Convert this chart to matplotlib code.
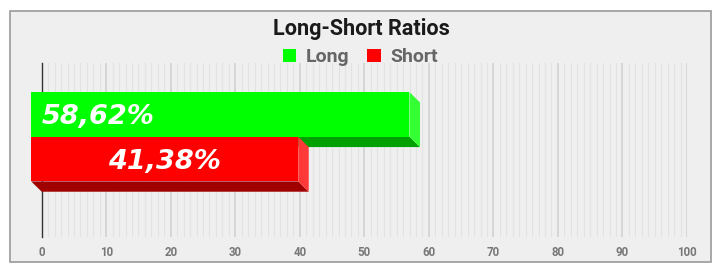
import matplotlib.pyplot as plt
from matplotlib.patches import Polygon, Rectangle, Patch
from matplotlib.ticker import MultipleLocator

# data
series = ["Long", "Short"]
values = [58.62, 41.38]
labels = ["58,62%", "41,38%"]
x_ticks = [0, 10, 20, 30, 40, 50, 60, 70, 80, 90, 100]

# colours: front, side, bottom
front_colors = ["#00ff00", "#ff0000"]
side_colors = ["#33ff33", "#ff3838"]
bottom_colors = ["#00a000", "#a00000"]
label_align = ["left", "center"]

W, H = 727, 280
fig = plt.figure(figsize=(W / 100, H / 100), dpi=100)
fig.patch.set_facecolor("white")

# outer frame
fig.patches.append(Rectangle((9.5 / W, 1 - 262 / H), (711 - 9.5) / W, (262 - 10.5) / H,
                             transform=fig.transFigure, facecolor="#efefef",
                             edgecolor="#9a9a9a", linewidth=1.2, zorder=-5))

ax_l, ax_r, ax_t, ax_b = 41.7, 687, 63, 236.7
ax = fig.add_axes([ax_l / W, 1 - ax_b / H, (ax_r - ax_l) / W, (ax_b - ax_t) / H])
ax.set_zorder(2)
ax.set_facecolor("none")
ax.set_xlim(0, 100)
ax.set_ylim(-0.5, 0.5)

# grid
ax.xaxis.set_major_locator(MultipleLocator(10))
ax.xaxis.set_minor_locator(MultipleLocator(1))
ax.grid(which="minor", axis="x", color="#e2e2e2", linewidth=0.8)
ax.grid(which="major", axis="x", color="#cfcfcf", linewidth=1.1)
ax.set_axisbelow(True)
for s in ["top", "right", "bottom"]:
    ax.spines[s].set_visible(False)
ax.spines["left"].set_color("#333333")
ax.spines["left"].set_linewidth(1.0)
ax.set_yticks([])
ax.set_xticks(x_ticks)
ax.set_xticklabels([str(t) for t in x_ticks])
ax.tick_params(axis="x", which="both", length=0, pad=6.5, labelsize=8.3, labelcolor="#777777")
for t in ax.get_xticklabels():
    t.set_fontfamily("Roboto")
    t.set_fontweight("bold")

# 3d depth in data units
depth_px = (10.5, 10.3)
dx = depth_px[0] * 100 / (ax_r - ax_l)
dy = depth_px[1] / (ax_b - ax_t)

bar_h = 0.257
group_center = 0.016
positions = [group_center + bar_h / 2, group_center - bar_h / 2]

for i, v in enumerate(values):
    yc = positions[i]
    y0, y1 = yc - bar_h / 2, yc + bar_h / 2
    # bottom face
    ax.add_patch(Polygon([(-dx, y0 + dy), (v - dx, y0 + dy), (v, y0), (0, y0)],
                         closed=True, facecolor=bottom_colors[i], edgecolor="none",
                         zorder=3 + i * 3, clip_on=False))
    # side face
    ax.add_patch(Polygon([(v - dx, y1 + dy), (v, y1), (v, y0), (v - dx, y0 + dy)],
                         closed=True, facecolor=side_colors[i], edgecolor="none",
                         zorder=4 + i * 3, clip_on=False))
    # front face
    ax.barh(yc + dy, v, height=bar_h, left=-dx, color=front_colors[i],
            zorder=5 + i * 3, clip_on=False)
    lx = 0 if label_align[i] == "left" else v / 2 - dx
    ax.text(lx, yc + dy, labels[i], ha=label_align[i], va="center_baseline",
            color="white", fontsize=19.5, fontweight="bold", fontstyle="italic",
            family="DejaVu Sans", zorder=20)

# title
fig.text(361.7 / W, 1 - 35 / H, "Long-Short Ratios", ha="center", va="baseline",
         fontsize=15.6, fontweight="bold", family="Roboto", color="#1a1a1a")

# legend
handles = [Patch(facecolor=c, edgecolor="none") for c in front_colors]
leg = fig.legend(handles, series, loc="center", bbox_to_anchor=(360.3 / W, 1 - 57.5 / H),
                 ncol=2, frameon=False, handlelength=0.67, handleheight=0.67,
                 handletextpad=0.5, columnspacing=0.95, borderpad=0,
                 prop={"family": "Roboto", "weight": "bold", "size": 14})
for t in leg.get_texts():
    t.set_color("#666666")

fig.savefig("out.png", dpi=100)
